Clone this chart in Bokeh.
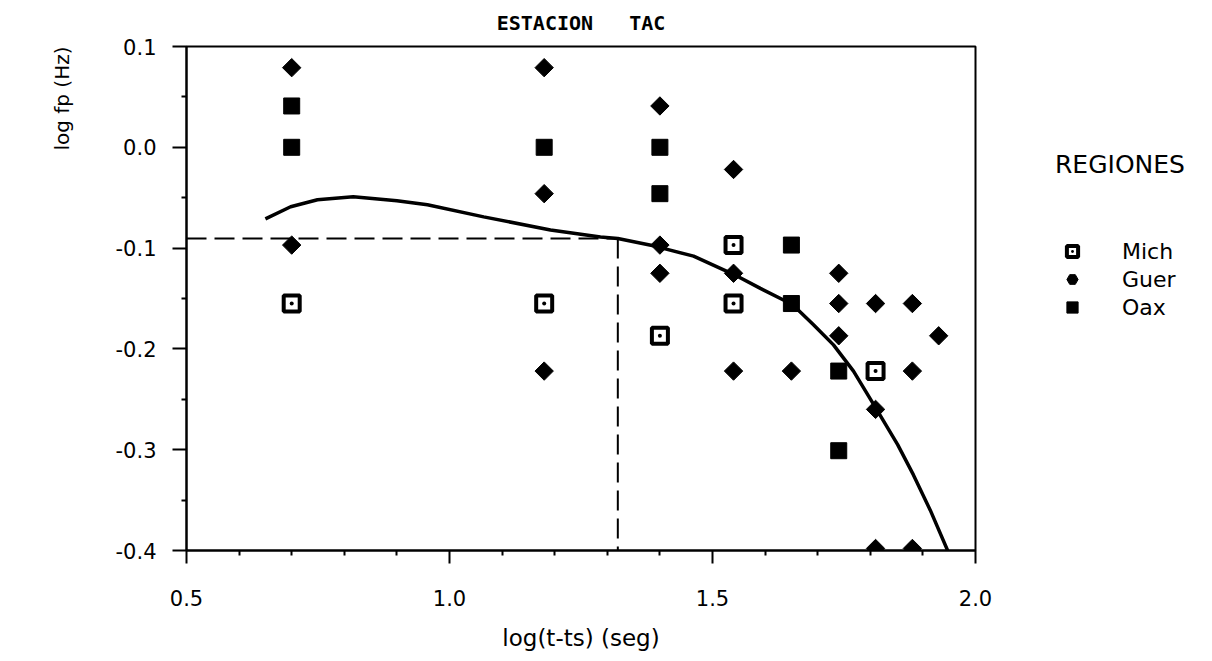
import math
from bokeh.plotting import figure
from bokeh.models import Range1d, FixedTicker, PrintfTickFormatter, Title, Legend, LegendItem
from bokeh.embed import file_html
from bokeh.resources import INLINE

# ---- data ----
x_ticks = [0.5, 1.0, 1.5, 2.0]
x_minor = [0.6, 0.7, 0.8, 0.9, 1.1, 1.2, 1.3, 1.4, 1.6, 1.7, 1.8, 1.9]
y_ticks = [0.1, 0.0, -0.1, -0.2, -0.3, -0.4]
y_minor = [0.05, -0.05, -0.15, -0.25, -0.35]

mich_x = [0.70, 1.18, 1.40, 1.54, 1.54, 1.81]
mich_y = [-0.155, -0.155, -0.187, -0.097, -0.155, -0.222]

guer_x = [0.70, 0.70, 1.18, 1.18, 1.18, 1.40, 1.40, 1.40, 1.54, 1.54, 1.54, 1.65,
          1.74, 1.74, 1.74, 1.81, 1.81, 1.81, 1.88, 1.88, 1.88, 1.93]
guer_y = [0.079, -0.097, 0.079, -0.046, -0.222, 0.041, -0.097, -0.125, -0.022, -0.125, -0.222, -0.222,
          -0.125, -0.155, -0.187, -0.155, -0.260, -0.398, -0.155, -0.222, -0.398, -0.187]

oax_x = [0.70, 0.70, 1.18, 1.40, 1.40, 1.65, 1.65, 1.74, 1.74]
oax_y = [0.041, 0.0, 0.0, 0.0, -0.046, -0.097, -0.155, -0.222, -0.301]

curve_x = [0.65, 0.698, 0.749, 0.817, 0.90, 0.958, 1.065, 1.192, 1.287, 1.32, 1.39, 1.464,
           1.54, 1.591, 1.652, 1.692, 1.73, 1.768, 1.812, 1.852, 1.882, 1.914, 1.947]
curve_y = [-0.071, -0.059, -0.052, -0.049, -0.053, -0.057, -0.069, -0.082, -0.089, -0.0905, -0.098, -0.108,
           -0.126, -0.140, -0.156, -0.176, -0.196, -0.222, -0.260, -0.295, -0.325, -0.360, -0.400]

cross_x = 1.32
cross_y = -0.0905

# ---- figure ----
p = figure(frame_width=789, frame_height=504, output_backend="svg", toolbar_location=None,
           x_range=Range1d(0.5, 2.0), y_range=Range1d(-0.4, 0.1),
           min_border_left=186, min_border_right=0, min_border_top=45, min_border_bottom=112)

p.background_fill_color = "white"
p.border_fill_color = "white"
p.outline_line_color = "black"
p.outline_line_width = 2
p.grid.visible = False

p.title.text = "ESTACION\u00a0\u00a0\u00a0TAC"
p.title.align = "center"
p.title.vertical_align = "top"
p.title.text_font = "DejaVu Sans Mono"
p.title.text_font_style = "bold"
p.title.text_font_size = "20px"
p.title.text_color = "black"
p.title.standoff = 20

p.xaxis.ticker = FixedTicker(ticks=x_ticks, minor_ticks=x_minor)
p.yaxis.ticker = FixedTicker(ticks=y_ticks, minor_ticks=y_minor)
p.xaxis.formatter = PrintfTickFormatter(format="%.1f")
p.yaxis.formatter = PrintfTickFormatter(format="%.1f")

for ax in (p.xaxis, p.yaxis):
    ax.axis_line_width = 2
    ax.axis_line_color = "black"
    ax.major_tick_line_width = 2
    ax.minor_tick_line_width = 2
    ax.major_tick_line_color = "black"
    ax.minor_tick_line_color = "black"
    ax.major_tick_in = 0
    ax.minor_tick_in = 0
    ax.major_label_text_font = "DejaVu Sans"
    ax.major_label_text_font_size = "21px"
    ax.major_label_text_color = "black"

p.xaxis.major_tick_out = 13
p.xaxis.minor_tick_out = 5
p.xaxis.major_label_standoff = 26
p.yaxis.major_tick_out = 14
p.yaxis.minor_tick_out = 5
p.yaxis.major_label_standoff = 16

p.xaxis.axis_label = "log(t-ts) (seg)"
p.xaxis.axis_label_text_font = "DejaVu Sans"
p.xaxis.axis_label_text_font_style = "normal"
p.xaxis.axis_label_text_font_size = "23px"
p.xaxis.axis_label_text_color = "black"
p.xaxis.axis_label_standoff = 16

ytitle = Title(text="log fp (Hz)", align="right", vertical_align="bottom", text_font="DejaVu Sans",
               text_font_style="normal", text_font_size="20px", text_color="black",
               standoff=78)
p.add_layout(ytitle, "left")

# reference lines
p.line([0.5, cross_x], [cross_y, cross_y], line_color="black", line_width=2, line_dash="20 8")
p.line([cross_x, cross_x], [cross_y, -0.4], line_color="black", line_width=2, line_dash="20 8")

# fitted curve
p.line(curve_x, curve_y, line_color="black", line_width=3.5)

# points
r_mich = p.scatter(mich_x, mich_y, marker="square_dot", size=16, fill_color="white",
                   line_color="black", line_width=4)
r_guer = p.scatter(guer_x, guer_y, marker="square", size=13, angle=math.pi / 4,
                   fill_color="black", line_color="black", line_width=1)
r_oax = p.scatter(oax_x, oax_y, marker="square", size=16, fill_color="black",
                  line_color="black", line_width=1)

# hidden copy of the Guer series, used only to draw its symbol in the legend
r_guer_key = p.scatter(guer_x, guer_y, marker="hex", size=16, fill_color="black",
                       line_color="black", line_width=1, visible=False)

legend = Legend(items=[LegendItem(label="Mich", renderers=[r_mich]),
                       LegendItem(label="Guer", renderers=[r_guer_key]),
                       LegendItem(label="Oax", renderers=[r_oax])],
                title="REGIONES", title_text_font="DejaVu Sans", title_text_font_style="normal",
                title_text_font_size="25px", title_text_color="black", title_standoff=58,
                location=(80, 229), padding=0, spacing=0, margin=0,
                glyph_width=34, glyph_height=28, label_standoff=33,
                label_text_font="DejaVu Sans", label_text_font_size="22px", label_text_color="black",
                inactive_fill_alpha=0.0,
                border_line_alpha=0, background_fill_alpha=0)
p.add_layout(legend, "right")

open("out.html", "w").write(file_html(p, INLINE))
